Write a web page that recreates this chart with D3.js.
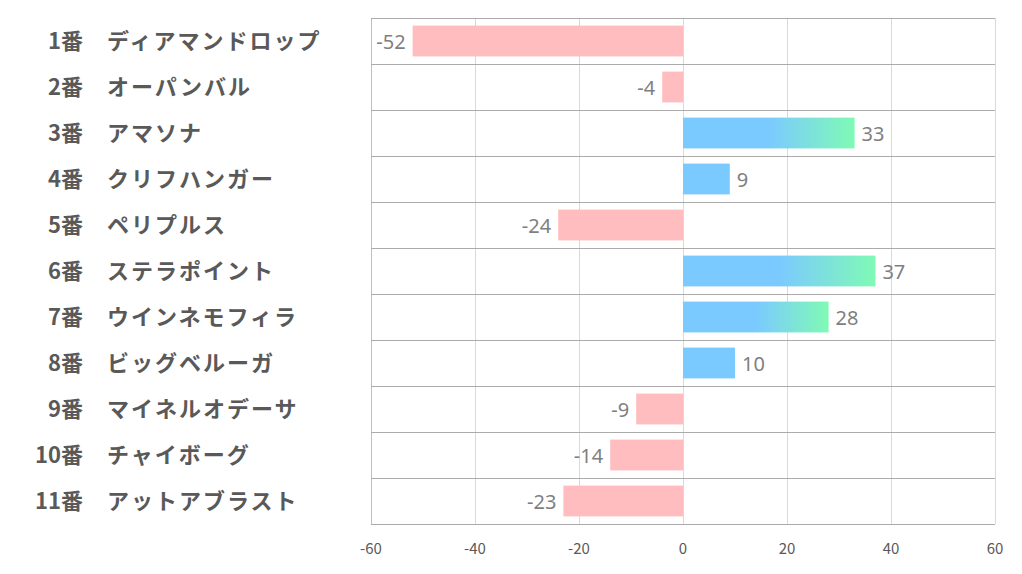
<!DOCTYPE html>
<html><head><meta charset="utf-8">
<script src="https://cdn.jsdelivr.net/npm/d3@7"></script>
<style>body{margin:0;background:#fff;}svg{display:block;}</style>
</head><body>
<svg id="c" width="1022" height="574"></svg>
<script>
const numbers = ["1番","2番","3番","4番","5番","6番","7番","8番","9番","10番","11番"];
const names = ["ディアマンドロップ","オーパンバル","アマソナ","クリフハンガー","ペリプルス","ステラポイント","ウインネモフィラ","ビッグベルーガ","マイネルオデーサ","チャイボーグ","アットアブラスト"];
const values = [-52,-4,33,9,-24,37,28,10,-9,-14,-23];
const xTicks = [-60,-40,-20,0,20,40,60];

const svg = d3.select("#c");
const L = 371, R = 995, T = 18, B = 524;
const x = d3.scaleLinear().domain([-60,60]).range([L,R]);
const y = d3.scaleBand().domain(numbers).range([T,B]).paddingInner(0.33).paddingOuter(0.165);
const rowH = (B-T)/numbers.length;

const defs = svg.append("defs");
values.forEach((v,i)=>{
  const g = defs.append("linearGradient").attr("id","g"+i).attr("x1","0").attr("x2","1").attr("y1","0").attr("y2","0");
  g.append("stop").attr("offset","50%").attr("stop-color","#7BCAFF");
  g.append("stop").attr("offset","100%").attr("stop-color","#7FFAB5");
});

// vertical gridlines
svg.append("g").selectAll("line").data(xTicks).join("line")
  .attr("x1",d=>x(d)).attr("x2",d=>x(d)).attr("y1",T).attr("y2",B)
  .attr("stroke",d=>d===-60?"#BFBFBF":"#D9D9D9").attr("stroke-width",1).attr("shape-rendering","crispEdges");
// horizontal row lines
svg.append("g").selectAll("line").data(d3.range(numbers.length+1)).join("line")
  .attr("x1",L).attr("x2",R).attr("y1",d=>T+d*rowH).attr("y2",d=>T+d*rowH)
  .attr("stroke","#ABABAB").attr("stroke-width",1).attr("shape-rendering","crispEdges");

// bars
svg.append("g").selectAll("rect").data(values).join("rect")
  .attr("x",d=>x(Math.min(0,d))).attr("width",d=>Math.abs(x(d)-x(0)))
  .attr("y",(d,i)=>y(numbers[i])).attr("height",y.bandwidth())
  .attr("fill",(d,i)=> d<0 ? "#FFBDBF" : (d>20 ? `url(#g${i})` : "#7BCAFF"));

// value labels
svg.append("g").selectAll("text").data(values).join("text")
  .attr("x",d=> d<0 ? x(d)-7 : x(d)+7)
  .attr("y",(d,i)=>y(numbers[i])+y.bandwidth()/2)
  .attr("dy","0.42em")
  .attr("text-anchor",d=>d<0?"end":"start")
  .attr("font-family","'Noto Sans', 'Open Sans', sans-serif").attr("font-size",20)
  .attr("fill","#7F7F7F").text(d=>d);

// category labels
const cat = svg.append("g").attr("font-family","'Noto Sans CJK JP', sans-serif").attr("font-weight","bold").attr("font-size",22).attr("fill","#595959");
cat.selectAll("text.num").data(numbers).join("text").attr("class","num")
  .attr("x",83).attr("y",d=>y(d)+y.bandwidth()/2).attr("dy","0.36em").attr("text-anchor","end").text(d=>d);
cat.selectAll("text.name").data(names).join("text").attr("class","name")
  .attr("x",107).attr("y",(d,i)=>y(numbers[i])+y.bandwidth()/2).attr("dy","0.36em")
  .attr("letter-spacing","2px").text(d=>d);

// x axis labels
svg.append("g").selectAll("text").data(xTicks).join("text")
  .attr("x",d=>x(d)).attr("y",554).attr("text-anchor","middle")
  .attr("font-family","'Noto Sans CJK JP', sans-serif").attr("font-size",15)
  .attr("fill","#595959").text(d=>d);
</script>
</body></html>
